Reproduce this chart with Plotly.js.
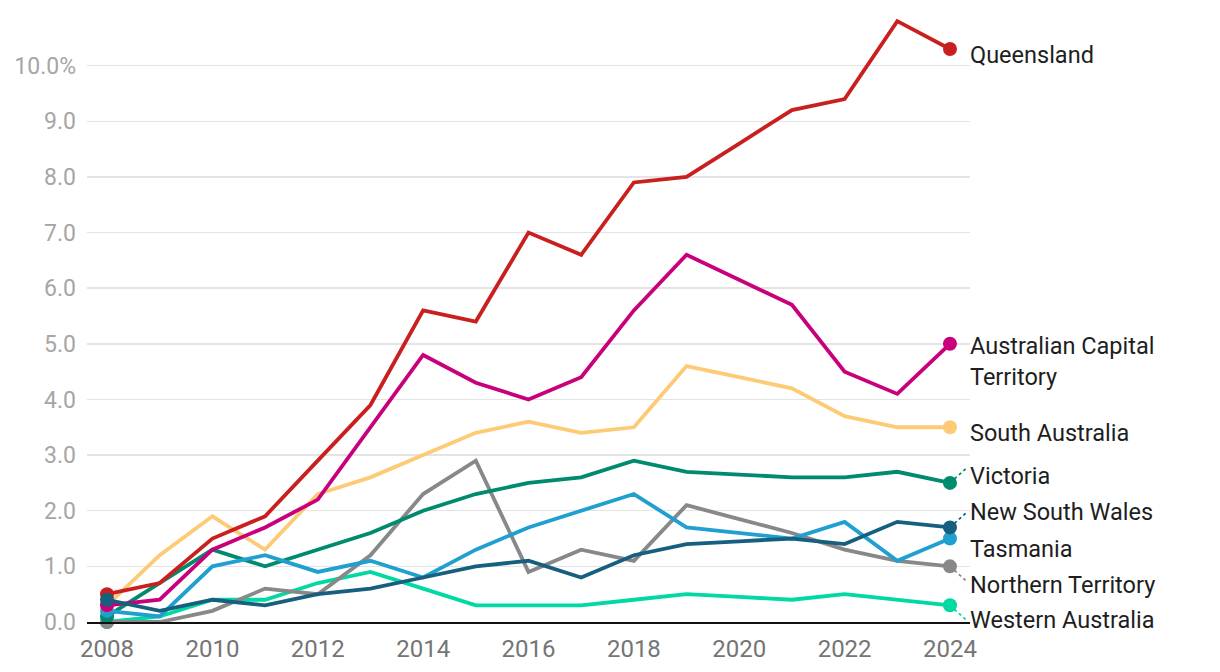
<!DOCTYPE html>
<html>
<head>
<meta charset="utf-8">
<script src="https://cdn.plot.ly/plotly-3.0.1.min.js"></script>
<style>
html,body{margin:0;padding:0;background:#fff;}
#chart{width:1220px;height:672px;}
</style>
</head>
<body>
<div id="chart"></div>
<script>
// ---- data ----
const years = [2008,2009,2010,2011,2012,2013,2014,2015,2016,2017,2018,2019,2020,2021,2022,2023,2024];
const seriesNames = ["Western Australia","Northern Territory","Victoria","Tasmania","South Australia","Australian Capital Territory","Queensland","New South Wales"];
const westernAustralia  = [0.0,0.1,0.4,0.4,0.7,0.9,0.6,0.3,0.3,0.3,0.4,0.5,0.45,0.4,0.5,0.4,0.3];
const northernTerritory = [0.0,0.0,0.2,0.6,0.5,1.2,2.3,2.9,0.9,1.3,1.1,2.1,1.85,1.6,1.3,1.1,1.0];
const victoria          = [0.1,0.7,1.3,1.0,1.3,1.6,2.0,2.3,2.5,2.6,2.9,2.7,2.65,2.6,2.6,2.7,2.5];
const tasmania          = [0.2,0.1,1.0,1.2,0.9,1.1,0.8,1.3,1.7,2.0,2.3,1.7,1.6,1.5,1.8,1.1,1.5];
const southAustralia    = [0.3,1.2,1.9,1.3,2.3,2.6,3.0,3.4,3.6,3.4,3.5,4.6,4.4,4.2,3.7,3.5,3.5];
const actValues         = [0.3,0.4,1.3,1.7,2.2,3.5,4.8,4.3,4.0,4.4,5.6,6.6,6.15,5.7,4.5,4.1,5.0];
const queensland        = [0.5,0.7,1.5,1.9,2.9,3.9,5.6,5.4,7.0,6.6,7.9,8.0,8.6,9.2,9.4,10.8,10.3];
const newSouthWales     = [0.4,0.2,0.4,0.3,0.5,0.6,0.8,1.0,1.1,0.8,1.2,1.4,1.45,1.5,1.4,1.8,1.7];
const seriesValues = [westernAustralia,northernTerritory,victoria,tasmania,southAustralia,actValues,queensland,newSouthWales];
const yTickVals = [0,1,2,3,4,5,6,7,8,9,10];
const yTickText = ["0.0","1.0","2.0","3.0","4.0","5.0","6.0","7.0","8.0","9.0","10.0%"];
const xTickVals = [2008,2010,2012,2014,2016,2018,2020,2022,2024];

// ---- styling / label layout ----
const colors = {
  "Western Australia":"#00d9a1",
  "Northern Territory":"#888888",
  "Victoria":"#008b6e",
  "Tasmania":"#1fa0d1",
  "South Australia":"#fdca76",
  "Australian Capital Territory":"#c8007c",
  "Queensland":"#c9201f",
  "New South Wales":"#165f7f"
};
const labelText = {
  "Western Australia":"Western Australia",
  "Northern Territory":"Northern Territory",
  "Victoria":"Victoria",
  "Tasmania":"Tasmania",
  "South Australia":"South Australia",
  "Australian Capital Territory":"Australian Capital<br>Territory",
  "Queensland":"Queensland",
  "New South Wales":"New South Wales"
};
// label anchor heights (axis units) after de-overlapping
const labelPos = {
  "Queensland":10.2,
  "Australian Capital Territory":4.69,
  "South Australia":3.4,
  "Victoria":2.62,
  "New South Wales":1.97,
  "Tasmania":1.32,
  "Northern Territory":0.67,
  "Western Australia":0.03
};
const connector = {"Victoria":true,"New South Wales":true,"Northern Territory":true,"Western Australia":true};

const traces = [];
const annotations = [];
const shapes = [];
const lastX = years[years.length-1];
seriesNames.forEach((name,i)=>{
  const vals = seriesValues[i];
  const sizes = vals.map((v,j)=> (j===0 || j===vals.length-1) ? 14 : 0);
  traces.push({
    type:'scatter', mode:'lines+markers', name:name,
    x:years, y:vals,
    line:{color:colors[name], width:3.8},
    marker:{color:colors[name], size:sizes, opacity:1, line:{width:0}},
    cliponaxis:false, hoverinfo:'x+y+name', showlegend:false
  });
  const lastV = vals[vals.length-1];
  annotations.push({
    x:lastX, y:labelPos[name], xref:'x', yref:'y',
    text:labelText[name], showarrow:false,
    xanchor:'left', yanchor:'middle', align:'left', xshift:18,
    font:{family:'Roboto, sans-serif', size:23.5, color:'#1e1e1e'}
  });
  if(connector[name]){
    const dir = labelPos[name] > lastV ? 1 : -1;
    shapes.push({
      type:'line', xref:'x', yref:'y', layer:'below',
      x0:lastX, y0:lastV, x1:lastX+0.33, y1:lastV + dir*0.28,
      line:{color:colors[name], width:1.8, dash:'dot'}
    });
  }
});

const layout = {
  width:1220, height:672,
  margin:{l:87, r:250, t:10, b:50},
  paper_bgcolor:'#fff', plot_bgcolor:'#fff',
  showlegend:false,
  font:{family:'Roboto, sans-serif'},
  xaxis:{
    range:[2007.62, 2024.38], tickvals:xTickVals, ticktext:xTickVals.map(String),
    showgrid:false, zeroline:false, showline:true, linecolor:'#111', linewidth:2,
    ticks:'', ticklabelstandoff:4,
    tickfont:{family:'Roboto, sans-serif', size:24, color:'#757575'}
  },
  yaxis:{
    range:[0,11], tickvals:yTickVals, ticktext:yTickText,
    showgrid:true, gridcolor:'#e4e4e4', gridwidth:1.5, zeroline:false, showline:false,
    ticks:'', ticklabelstandoff:10,
    tickfont:{family:'Roboto, sans-serif', size:23, color:'#a6a6a6'}
  },
  annotations:annotations,
  shapes:shapes
};
Plotly.newPlot('chart', traces, layout, {displayModeBar:false, staticPlot:true});
</script>
</body>
</html>
